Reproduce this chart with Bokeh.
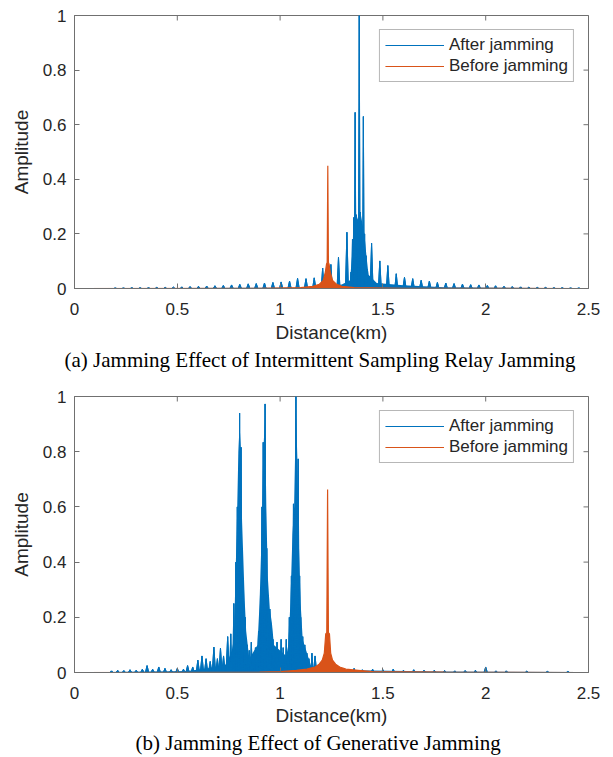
import math
from bokeh.plotting import figure
from bokeh.models import (Range1d, Legend, LegendItem, Title,
                          FixedTicker, NumeralTickFormatter)
from bokeh.layouts import column
from bokeh.embed import file_html
from bokeh.resources import INLINE

BLUE = "#0072BD"
ORANGE = "#D95319"
AXC = "#707070"
TXT = "#262626"
SANS = "Liberation Sans"
SERIF = "Liberation Serif"

x_ticks = [0, 0.5, 1, 1.5, 2, 2.5]
y_ticks = [0, 0.2, 0.4, 0.6, 0.8, 1]
series_names = ["After jamming", "Before jamming"]
captions = ["(a) Jamming Effect of Intermittent Sampling Relay Jamming",
            "(b) Jamming Effect of Generative Jamming"]
x_label = "Distance(km)"
y_label = "Amplitude"

# ---------- (a) after jamming: spike positions (km), heights, half-widths ----------
a_after_pos = [0.198, 0.238, 0.279, 0.319, 0.360, 0.400, 0.441, 0.481, 0.522, 0.562,
               0.603, 0.643, 0.683, 0.724, 0.764, 0.804, 0.845, 0.884, 0.924, 0.965,
               1.005, 1.046, 1.085, 1.126, 1.166, 1.207, 1.247, 1.284, 1.325,
               1.345, 1.352, 1.358, 1.365, 1.371, 1.378, 1.385, 1.391, 1.398, 1.405,
               1.411, 1.418, 1.425,
               1.445, 1.485, 1.524, 1.565, 1.605, 1.645, 1.686, 1.726, 1.765, 1.806,
               1.846, 1.887, 1.927, 1.967, 2.008, 2.048, 2.089, 2.129, 2.170, 2.210,
               2.251, 2.291, 2.332, 2.372, 2.413, 2.453]
a_after_h = [0.002, 0.002, 0.003, 0.003, 0.003, 0.004, 0.004, 0.005, 0.006, 0.007,
             0.008, 0.009, 0.010, 0.011, 0.013, 0.015, 0.017, 0.018, 0.020, 0.022,
             0.024, 0.027, 0.037, 0.036, 0.039, 0.075, 0.088, 0.115, 0.206,
             0.060, 0.180, 0.260, 0.645, 0.270, 0.240, 1.000, 0.280, 0.220, 0.630,
             0.200, 0.120, 0.070,
             0.166, 0.101, 0.084, 0.054, 0.041, 0.036, 0.030, 0.027, 0.022, 0.020,
             0.018, 0.016, 0.014, 0.013, 0.011, 0.010, 0.008, 0.007, 0.006, 0.005,
             0.004, 0.004, 0.003, 0.003, 0.002, 0.002]
a_after_w = ([0.008] * 25 + [0.007] * 4 + [0.004] * 13 + [0.007] * 4
             + [0.008] * 22)
# dense fill under the main cluster
a_floor_x = [0.16, 1.10, 1.20, 1.30, 1.34, 1.35, 1.36, 1.365, 1.38, 1.39, 1.40,
             1.41, 1.42, 1.43, 1.47, 1.60, 1.80, 2.46]
a_floor_y = [0.001, 0.003, 0.008, 0.015, 0.03, 0.12, 0.24, 0.28, 0.25, 0.28, 0.24,
             0.2, 0.12, 0.05, 0.02, 0.012, 0.005, 0.001]

# ---------- (a) before jamming: envelope points ----------
a_before_x = [0.0, 0.90, 1.10, 1.16, 1.19, 1.21, 1.220, 1.226, 1.229, 1.232, 1.235,
              1.238, 1.244, 1.255, 1.275, 1.30, 1.36, 1.60, 2.46]
a_before_y = [0.0, 0.001, 0.003, 0.008, 0.015, 0.03, 0.06, 0.09, 0.095, 0.45, 0.095,
              0.09, 0.06, 0.03, 0.015, 0.008, 0.003, 0.001, 0.0]

# ---------- (b) after jamming ----------
b_after_pos = [0.18, 0.21, 0.24, 0.27, 0.30, 0.33, 0.353, 0.38, 0.41, 0.44, 0.47, 0.50,
               0.53, 0.55, 0.575, 0.60, 0.62, 0.64, 0.66, 0.678, 0.695, 0.71, 0.725,
               0.745, 0.76, 0.775, 0.785, 0.792, 0.803, 0.81, 0.815, 0.822, 0.83, 0.84,
               0.85, 0.86, 0.87, 0.88, 0.895, 0.905, 0.912, 0.918, 0.927, 0.935, 0.942,
               0.95, 0.958, 0.965, 0.975, 0.985, 0.995, 1.005, 1.015, 1.03, 1.045,
               1.055, 1.065, 1.077, 1.088, 1.095, 1.10, 1.11, 1.12, 1.13, 1.14, 1.155,
               1.17, 1.19, 1.21, 1.25, 1.28, 1.30, 1.33, 1.36, 1.40, 1.45, 1.50, 1.55,
               1.60, 1.65, 1.70, 1.75, 1.80, 1.85, 1.90, 1.95, 2.00, 2.05, 2.10, 2.20,
               2.30, 2.40]
b_after_h = [0.006, 0.008, 0.007, 0.010, 0.008, 0.012, 0.025, 0.012, 0.020, 0.015,
             0.010, 0.015, 0.012, 0.025, 0.020, 0.045, 0.060, 0.050, 0.040, 0.092,
             0.050, 0.088, 0.060, 0.130, 0.140, 0.250, 0.400, 0.600, 0.940, 0.816,
             0.450, 0.300, 0.200, 0.100, 0.080, 0.110, 0.060, 0.090, 0.150, 0.300,
             0.600, 0.834, 0.973, 0.450, 0.260, 0.230, 0.170, 0.120, 0.080, 0.110,
             0.070, 0.120, 0.090, 0.120, 0.200, 0.350, 0.611, 1.000, 0.774, 0.350,
             0.200, 0.130, 0.100, 0.070, 0.050, 0.070, 0.060, 0.030, 0.020, 0.020,
             0.015, 0.015, 0.012, 0.015, 0.010, 0.012, 0.010, 0.012, 0.008, 0.010,
             0.008, 0.008, 0.007, 0.006, 0.007, 0.008, 0.020, 0.006, 0.006, 0.005,
             0.004, 0.004]
b_after_w = [0.008] * 24 + [0.005] * 42 + [0.008] * 26
# dense fill (envelope of the fast oscillation) around the three false targets
b_floor_x = [0.16, 0.55, 0.65, 0.74, 0.765, 0.775, 0.78, 0.79, 0.797, 0.803, 0.81,
             0.815, 0.828, 0.835, 0.85, 0.89, 0.90, 0.91, 0.918, 0.927, 0.933, 0.94,
             0.95, 0.96, 0.97, 1.03, 1.04, 1.05, 1.06, 1.068, 1.077, 1.085, 1.09,
             1.10, 1.11, 1.15, 1.20, 1.35, 1.80, 2.46]
b_floor_y = [0.002, 0.005, 0.015, 0.03, 0.08, 0.12, 0.26, 0.55, 0.80, 0.90, 0.80,
             0.55, 0.26, 0.15, 0.05, 0.10, 0.25, 0.50, 0.80, 0.93, 0.60, 0.35,
             0.23, 0.18, 0.10, 0.06, 0.10, 0.25, 0.50, 0.60, 0.95, 0.75, 0.50,
             0.25, 0.12, 0.025, 0.01, 0.008, 0.004, 0.002]

# ---------- (b) before jamming ----------
b_before_x = [0.0, 0.90, 1.00, 1.08, 1.13, 1.17, 1.19, 1.205, 1.215, 1.222, 1.227,
              1.231, 1.235, 1.240, 1.246, 1.255, 1.27, 1.29, 1.32, 1.38, 1.45, 1.80, 2.46]
b_before_y = [0.0, 0.001, 0.003, 0.008, 0.012, 0.02, 0.03, 0.045, 0.07, 0.14, 0.144,
              0.663, 0.144, 0.14, 0.07, 0.045, 0.03, 0.02, 0.012, 0.008, 0.003, 0.001, 0.0]


def spike_paths(pos, h, w):
    xs, ys = [], []
    for p_, h_, w_ in zip(pos, h, w):
        xs.append([p_ - w_, p_, p_ + w_])
        ys.append([0, h_, 0])
    return xs, ys


def make_panel(H, top, bottom, after, floor, before, caption, cap_offset,
               lab_standoff, axlab_standoff, title_standoff):
    p = figure(width=605, height=H, x_range=Range1d(0, 2.5), y_range=Range1d(0, 1),
               output_backend="svg", toolbar_location=None,
               min_border_left=74, min_border_right=17,
               min_border_top=top, min_border_bottom=bottom)
    p.grid.visible = False
    p.outline_line_color = AXC
    p.outline_line_width = 1
    p.background_fill_color = "white"
    p.border_fill_color = "white"

    pos, h, w = after
    sx, sy = spike_paths(pos, h, w)
    fx, fy = floor
    p.varea(x=fx, y1=[0] * len(fx), y2=fy, fill_color=BLUE)
    p.patches(xs=sx, ys=sy, fill_color=BLUE, line_color=BLUE, line_width=1)
    lx = [v for seg in sx for v in seg]
    ly = [v for seg in sy for v in seg]
    r_after = p.line(lx, ly, line_color=BLUE, line_width=1)

    bx, by = before
    p.varea(x=bx, y1=[0] * len(bx), y2=by, fill_color=ORANGE)
    r_before = p.line(bx, by, line_color=ORANGE, line_width=1.2)

    # inward ticks on the top and right edges (box on)
    p.scatter(x=x_ticks, y=[y_ticks[-1]] * len(x_ticks), marker="dash", size=10,
              angle=math.pi / 2, line_color=AXC, line_width=1)
    p.scatter(x=[x_ticks[-1]] * len(y_ticks), y=y_ticks, marker="dash", size=10,
              line_color=AXC, line_width=1)

    for ax in [p.xaxis[0], p.yaxis[0]]:
        ax.major_tick_in = 5
        ax.major_tick_out = 0
        ax.minor_tick_line_color = None
        ax.axis_line_color = AXC
        ax.major_tick_line_color = AXC
        ax.major_label_text_font = SANS
        ax.major_label_text_font_size = "17px"
        ax.major_label_text_color = TXT
        ax.axis_label_text_font = SANS
        ax.axis_label_text_font_size = "19px"
        ax.axis_label_text_font_style = "normal"
        ax.axis_label_text_color = TXT
        ax.formatter = NumeralTickFormatter(format="0.[0]")
    p.xaxis[0].ticker = FixedTicker(ticks=x_ticks)
    p.yaxis[0].ticker = FixedTicker(ticks=y_ticks)
    p.xaxis[0].axis_label = x_label
    p.yaxis[0].axis_label = y_label
    p.xaxis[0].major_label_standoff = lab_standoff
    p.xaxis[0].axis_label_standoff = axlab_standoff
    p.yaxis[0].major_label_standoff = 8
    p.yaxis[0].axis_label_standoff = 8

    legend = Legend(items=[LegendItem(label=series_names[0], renderers=[r_after]),
                           LegendItem(label=series_names[1], renderers=[r_before])],
                    location="top_right")
    legend.margin = 14
    legend.padding = 5
    legend.spacing = 1
    legend.glyph_width = 59
    legend.glyph_height = 20
    legend.label_height = 20
    legend.label_standoff = 5
    legend.label_text_font = SANS
    legend.label_text_font_size = "17px"
    legend.label_text_color = TXT
    legend.border_line_color = AXC
    legend.border_line_width = 1
    legend.background_fill_alpha = 1
    p.add_layout(legend)

    t = Title(text=caption, align="left", text_font=SERIF, text_font_size="21px",
              text_font_style="normal", text_color="black", offset=cap_offset,
              standoff=title_standoff)
    p.add_layout(t, "below")
    return p


p1 = make_panel(388, 15, 100, (a_after_pos, a_after_h, a_after_w),
                (a_floor_x, a_floor_y), (a_before_x, a_before_y), captions[0], -10,
                14, 4, 0)
p2 = make_panel(367, 8, 83, (b_after_pos, b_after_h, b_after_w),
                (b_floor_x, b_floor_y), (b_before_x, b_before_y), captions[1], 61,
                14, 3, 0)

layout = column(p1, p2, spacing=0)
open("out.html", "w").write(file_html(layout, INLINE))
